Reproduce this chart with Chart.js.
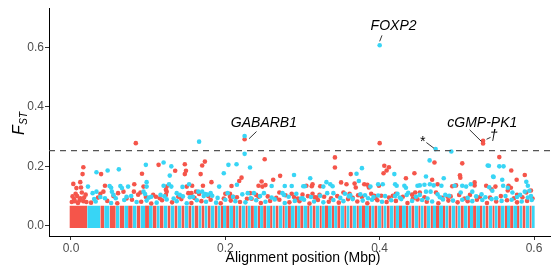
<!DOCTYPE html>
<html lang="en">
<head>
  <meta charset="UTF-8" />
  <title>Fst along alignment</title>
  <style>
    html, body { margin: 0; padding: 0; background: #fff; }
    #wrap { width: 551px; height: 267px; }
  </style>
  <script src="https://cdn.jsdelivr.net/npm/chart.js"></script>
</head>
<body>
  <div id="wrap"><canvas id="fstChart" width="551" height="267"></canvas></div>

  <script>
    // tick labels
    const xTicks = [0, 0.2, 0.4, 0.6];
    const yTicks = [0, 0.2, 0.4, 0.6];

    // significance threshold (dashed line)
    const threshold = 0.2525;

    // dense band of low-Fst SNPs: alternating red / cyan blocks (Mbp edges)
    const stripeEdges = [-0.002, 0.021, 0.038, 0.043, 0.050, 0.058, 0.063, 0.069, 0.074, 0.080,
      0.085, 0.090, 0.096, 0.101, 0.106, 0.111, 0.115, 0.120, 0.125, 0.129, 0.134, 0.138, 0.143,
      0.147, 0.152, 0.156, 0.160, 0.165, 0.169, 0.173, 0.177, 0.181, 0.186, 0.190, 0.194, 0.197,
      0.201, 0.205, 0.210, 0.213, 0.217, 0.221, 0.226, 0.229, 0.233, 0.237, 0.242, 0.245, 0.249,
      0.253, 0.258, 0.261, 0.265, 0.269, 0.274, 0.277, 0.281, 0.285, 0.290, 0.293, 0.297, 0.301,
      0.306, 0.309, 0.313, 0.317, 0.322, 0.325, 0.329, 0.333, 0.338, 0.341, 0.345, 0.349, 0.354,
      0.357, 0.361, 0.365, 0.370, 0.373, 0.377, 0.381, 0.386, 0.389, 0.393, 0.397, 0.402, 0.405,
      0.409, 0.413, 0.418, 0.421, 0.425, 0.429, 0.434, 0.437, 0.441, 0.445, 0.450, 0.453, 0.457,
      0.461, 0.466, 0.469, 0.473, 0.477, 0.482, 0.485, 0.489, 0.493, 0.498, 0.501, 0.505, 0.509,
      0.514, 0.517, 0.521, 0.525, 0.530, 0.533, 0.537, 0.541, 0.546, 0.549, 0.553, 0.557, 0.562,
      0.565, 0.569, 0.573, 0.578, 0.581, 0.585, 0.589, 0.594, 0.597, 0.601];
    const bandTop = 0.068;
    const bandBottom = -0.007;

    // scattered SNPs, red scaffolds
    const redX = [0.084, 0.225, 0.251, 0.400, 0.534, 0.534, 0.342, 0.342, 0.471, 0.507, 0.555,
      0.406, 0.412, 0.409, 0.405, 0.016, 0.015, 0.003, 0.012, 0.013, 0.007, 0.039, 0.044, 0.068,
      0.042, 0.038, 0.061, 0.092, 0.1135, 0.135, 0.1475, 0.149, 0.1475, 0.082, 0.094, 0.124,
      0.123, 0.157, 0.150, 0.0815, 0.087, 0.090, 0.1065, 0.110, 0.124, 0.123, 0.152, 0.156,
      0.162, 0.166, 0.1735, 0.170, 0.168, 0.221, 0.218, 0.208, 0.171, 0.182, 0.247, 0.243, 0.248,
      0.252, 0.200, 0.206, 0.206, 0.210, 0.232, 0.240, 0.243, 0.271, 0.262, 0.313, 0.312, 0.305,
      0.323, 0.300, 0.307, 0.313, 0.318, 0.322, 0.328, 0.270, 0.286, 0.278, 0.3625, 0.434, 0.350,
      0.357, 0.3675, 0.369, 0.380, 0.384, 0.386, 0.399, 0.353, 0.361, 0.372, 0.389, 0.393, 0.402,
      0.417, 0.421, 0.445, 0.468, 0.5045, 0.475, 0.494, 0.499, 0.523, 0.523, 0.446, 0.442, 0.452,
      0.473, 0.488, 0.503, 0.517, 0.504, 0.5705, 0.588, 0.550, 0.5775, 0.567, 0.570, 0.538, 0.545,
      0.566, 0.578, 0.590, 0.596, 0.001, 0.004, 0.008, 0.011, 0.014, 0.017, 0.019, 0.006, 0.002,
      0.012, 0.016, 0.020, 0.009, 0.005,
      0.026, 0.047, 0.060, 0.079, 0.091, 0.104, 0.118, 0.131, 0.143, 0.156, 0.169, 0.181, 0.194,
      0.207, 0.219, 0.234, 0.246, 0.258, 0.270, 0.283, 0.296, 0.309, 0.320, 0.334, 0.347, 0.359,
      0.371, 0.384, 0.397, 0.409, 0.421, 0.436, 0.449, 0.461, 0.476, 0.489, 0.501, 0.514, 0.526,
      0.539, 0.551, 0.565, 0.578, 0.591,
      0.035, 0.055, 0.072, 0.097, 0.115, 0.139, 0.160, 0.178, 0.198, 0.215, 0.228, 0.255, 0.266,
      0.289, 0.294, 0.316, 0.337, 0.345, 0.365, 0.377, 0.395, 0.412, 0.430, 0.443, 0.458, 0.481,
      0.492, 0.510, 0.530, 0.543, 0.557, 0.574, 0.585, 0.598];
    const redY = [0.278, 0.291, 0.224, 0.278, 0.286, 0.277, 0.230, 0.196, 0.213, 0.210, 0.231,
      0.202, 0.197, 0.186, 0.177, 0.197, 0.174, 0.141, 0.147, 0.129, 0.127, 0.174, 0.135, 0.115,
      0.115, 0.108, 0.110, 0.175, 0.205, 0.185, 0.207, 0.185, 0.174, 0.140, 0.132, 0.132,
      0.121, 0.135, 0.132, 0.115, 0.105, 0.112, 0.104, 0.098, 0.115, 0.104, 0.110, 0.110,
      0.115, 0.107, 0.216, 0.203, 0.174, 0.162, 0.151, 0.134, 0.135, 0.147, 0.149, 0.135, 0.132,
      0.137, 0.108, 0.108, 0.098, 0.098, 0.110, 0.104, 0.098, 0.168, 0.155, 0.140, 0.133, 0.135,
      0.133, 0.105, 0.100, 0.108, 0.095, 0.104, 0.098, 0.112, 0.108, 0.103, 0.174, 0.160, 0.146,
      0.140, 0.142, 0.129, 0.140, 0.138, 0.129, 0.135, 0.112, 0.108, 0.103, 0.108, 0.101, 0.101,
      0.101, 0.108, 0.177, 0.155, 0.162, 0.140, 0.133, 0.136, 0.136, 0.146, 0.112, 0.105, 0.112,
      0.112, 0.098, 0.104, 0.104, 0.170, 0.186, 0.171, 0.132, 0.155, 0.135, 0.128, 0.135, 0.123,
      0.119, 0.104, 0.112, 0.119, 0.080, 0.090, 0.100, 0.085, 0.112, 0.095, 0.105, 0.108, 0.099,
      0.093, 0.083, 0.080, 0.077, 0.083,
      0.078, 0.084, 0.076, 0.088, 0.081, 0.075, 0.086, 0.079, 0.090, 0.077, 0.083, 0.088, 0.076,
      0.085, 0.080, 0.091, 0.077, 0.084, 0.088, 0.079, 0.083, 0.075, 0.087, 0.081, 0.078, 0.090,
      0.082, 0.076, 0.086, 0.080, 0.084, 0.077, 0.089, 0.081, 0.076, 0.085, 0.079, 0.083, 0.088,
      0.077, 0.082, 0.086, 0.079, 0.084,
      0.095, 0.100, 0.092, 0.097, 0.093, 0.098, 0.094, 0.100, 0.092, 0.096, 0.091, 0.099, 0.094,
      0.097, 0.092, 0.096, 0.093, 0.100, 0.094, 0.097, 0.093, 0.095, 0.098, 0.092, 0.096, 0.094,
      0.099, 0.092, 0.097, 0.095, 0.100, 0.093, 0.096, 0.092];

    // scattered SNPs, cyan scaffolds
    const cyanX = [0.166, 0.225, 0.225, 0.232, 0.400, 0.4725, 0.4928, 0.4647, 0.540, 0.5415,
      0.555, 0.5605, 0.5476, 0.5588, 0.033, 0.0475, 0.062, 0.022, 0.050, 0.052, 0.064, 0.066,
      0.074, 0.072, 0.028, 0.033, 0.053, 0.055, 0.030, 0.044, 0.097, 0.120, 0.130, 0.128, 0.098,
      0.098, 0.120, 0.127, 0.130, 0.1445, 0.153, 0.165, 0.094, 0.096, 0.104, 0.116, 0.137, 0.141,
      0.145, 0.158, 0.204, 0.2145, 0.198, 0.215, 0.192, 0.170, 0.174, 0.177, 0.172, 0.181, 0.203,
      0.222, 0.229, 0.237, 0.250, 0.289, 0.310, 0.260, 0.277, 0.286, 0.301, 0.303, 0.327, 0.331,
      0.336, 0.339, 0.274, 0.276, 0.292, 0.300, 0.332, 0.340, 0.377, 0.370, 0.419, 0.373, 0.388,
      0.398, 0.404, 0.420, 0.422, 0.432, 0.434, 0.355, 0.362, 0.375, 0.381, 0.398, 0.420, 0.423,
      0.435, 0.437, 0.460, 0.483, 0.449, 0.452, 0.458, 0.465, 0.470, 0.480, 0.497, 0.507, 0.512,
      0.518, 0.460, 0.466, 0.452, 0.475, 0.485, 0.505, 0.520, 0.547, 0.542, 0.560, 0.566, 0.590,
      0.592, 0.588, 0.594, 0.546, 0.532, 0.572, 0.582, 0.596,
      0.032, 0.052, 0.069, 0.085, 0.098, 0.111, 0.124, 0.137, 0.150, 0.163, 0.175, 0.188, 0.200,
      0.213, 0.226, 0.240, 0.252, 0.264, 0.277, 0.290, 0.302, 0.315, 0.327, 0.340, 0.353, 0.365,
      0.378, 0.390, 0.403, 0.415, 0.428, 0.442, 0.455, 0.468, 0.482, 0.495, 0.507, 0.520, 0.533,
      0.545, 0.558, 0.571, 0.584, 0.597,
      0.038, 0.058, 0.078, 0.101, 0.121, 0.133, 0.154, 0.183, 0.190, 0.210, 0.233, 0.245, 0.260,
      0.282, 0.298, 0.311, 0.323, 0.349, 0.360, 0.385, 0.392, 0.407, 0.426, 0.447, 0.462, 0.478,
      0.490, 0.514, 0.525, 0.537, 0.551, 0.563, 0.578, 0.592];
    const cyanY = [0.283, 0.302, 0.242, 0.196, 0.607, 0.258, 0.250, 0.220, 0.203, 0.202,
      0.200, 0.200, 0.164, 0.155, 0.180, 0.186, 0.190, 0.132, 0.134, 0.128, 0.134, 0.127,
      0.132, 0.098, 0.110, 0.115, 0.115, 0.104, 0.090, 0.093, 0.205, 0.213, 0.200, 0.169, 0.147,
      0.132, 0.135, 0.140, 0.132, 0.131, 0.140, 0.115, 0.115, 0.107, 0.098, 0.104, 0.110, 0.104,
      0.099, 0.098, 0.205, 0.207, 0.177, 0.138, 0.132, 0.115, 0.107, 0.105, 0.100, 0.110, 0.110,
      0.106, 0.110, 0.110, 0.110, 0.171, 0.160, 0.134, 0.134, 0.134, 0.133, 0.133, 0.132, 0.147,
      0.140, 0.133, 0.110, 0.104, 0.108, 0.093, 0.110, 0.110, 0.194, 0.175, 0.174, 0.151, 0.132,
      0.140, 0.140, 0.140, 0.135, 0.135, 0.128, 0.108, 0.103, 0.106, 0.103, 0.102, 0.100, 0.108,
      0.104, 0.111, 0.166, 0.160, 0.135, 0.136, 0.138, 0.140, 0.136, 0.135, 0.135, 0.135, 0.132,
      0.140, 0.115, 0.115, 0.104, 0.106, 0.104, 0.112, 0.115, 0.166, 0.130, 0.135, 0.128, 0.148,
      0.135, 0.115, 0.118, 0.118, 0.106, 0.112, 0.104, 0.100,
      0.082, 0.077, 0.087, 0.080, 0.085, 0.078, 0.089, 0.083, 0.076, 0.086, 0.081, 0.078, 0.088,
      0.083, 0.079, 0.086, 0.081, 0.089, 0.077, 0.084, 0.088, 0.082, 0.079, 0.087, 0.083, 0.090,
      0.085, 0.088, 0.081, 0.086, 0.090, 0.084, 0.087, 0.082, 0.089, 0.085, 0.088, 0.083, 0.087,
      0.090, 0.084, 0.088, 0.082, 0.087,
      0.097, 0.093, 0.100, 0.095, 0.099, 0.092, 0.096, 0.101, 0.094, 0.098, 0.093, 0.100, 0.095,
      0.098, 0.092, 0.097, 0.101, 0.094, 0.099, 0.093, 0.097, 0.100, 0.095, 0.098, 0.092, 0.096,
      0.101, 0.094, 0.099, 0.096, 0.093, 0.100, 0.097, 0.095];

    const RED = "#F5554A";
    const CYAN = "#38D5F5";

    // gene labels with leader lines (data units)
    const notes = [
      { text: "FOXP2",    tx: 0.418, ty: 0.672, x1: 0.403,  y1: 0.640, x2: 0.400,  y2: 0.620 },
      { text: "GABARB1",  tx: 0.250, ty: 0.346, x1: 0.2404, y1: 0.317, x2: 0.2308, y2: 0.293 },
      { text: "cGMP-PK1", tx: 0.533, ty: 0.346, x1: 0.5165, y1: 0.323, x2: 0.5317, y2: 0.284 },
      { text: "*",        tx: 0.455, ty: 0.283, x1: 0.4605, y1: 0.280, x2: 0.4703, y2: 0.261 },
      { text: "\u2020",   tx: 0.5476, ty: 0.300, x1: 0.5385, y1: 0.291, x2: 0.5437, y2: 0.2975 }
    ];

    const toPoints = (xs, ys) => xs.map((x, i) => ({ x: x, y: ys[i] }));

    const datasets = [
      { label: "red", data: toPoints(redX, redY), backgroundColor: RED, pointRadius: 2.3,
        pointBorderWidth: 0, showLine: false, order: 1 },
      { label: "cyan", data: toPoints(cyanX, cyanY), backgroundColor: CYAN, pointRadius: 2.3,
        pointBorderWidth: 0, showLine: false, order: 0 }
    ];

    // one filled block per stripe, colours alternate
    for (let i = 0; i < stripeEdges.length - 1; i++) {
      const col = i % 2 === 0 ? RED : CYAN;
      datasets.push({
        type: "line",
        data: [{ x: stripeEdges[i], y: bandTop }, { x: stripeEdges[i + 1], y: bandTop }],
        borderWidth: 0,
        borderColor: col,
        backgroundColor: col,
        pointRadius: 0,
        fill: { value: bandBottom },
        order: 5
      });
    }

    const FONT = "'Liberation Sans', Arial, sans-serif";

    const extras = {
      id: "extras",
      afterDatasetsDraw(chart) {
        const ctx = chart.ctx;
        const a = chart.chartArea;
        const xs = chart.scales.x, ys = chart.scales.y;

        // dashed threshold
        ctx.save();
        ctx.strokeStyle = "#555555";
        ctx.lineWidth = 1.3;
        ctx.setLineDash([6, 5]);
        const yt = ys.getPixelForValue(threshold);
        ctx.beginPath();
        ctx.moveTo(a.left, yt);
        ctx.lineTo(a.right, yt);
        ctx.stroke();
        ctx.restore();

        // labels
        ctx.save();
        ctx.fillStyle = "#000";
        ctx.strokeStyle = "#000";
        ctx.lineWidth = 0.8;
        ctx.font = "italic 14px " + FONT;
        ctx.textAlign = "center";
        ctx.textBaseline = "middle";
        notes.forEach(n => {
          ctx.fillText(n.text, xs.getPixelForValue(n.tx), ys.getPixelForValue(n.ty));
          ctx.beginPath();
          ctx.moveTo(xs.getPixelForValue(n.x1), ys.getPixelForValue(n.y1));
          ctx.lineTo(xs.getPixelForValue(n.x2), ys.getPixelForValue(n.y2));
          ctx.stroke();
        });
        ctx.restore();

        // axis titles
        ctx.save();
        ctx.fillStyle = "#000";
        ctx.font = "14px " + FONT;
        ctx.textAlign = "center";
        ctx.textBaseline = "middle";
        ctx.fillText("Alignment position (Mbp)", 303, 258);
        ctx.translate(24, 135);
        ctx.rotate(-Math.PI / 2);
        ctx.textAlign = "left";
        ctx.textBaseline = "alphabetic";
        ctx.font = "italic 16px " + FONT;
        ctx.fillText("F", 0, 0);
        const fw = ctx.measureText("F").width;
        ctx.font = "italic 10px " + FONT;
        ctx.fillText("ST", fw + 0.5, 3);
        ctx.restore();
      }
    };

    new Chart(document.getElementById("fstChart"), {
      type: "scatter",
      data: { datasets: datasets },
      options: {
        responsive: false,
        animation: false,
        layout: { autoPadding: false, padding: { top: 8, right: 0, left: 0, bottom: 0 } },
        plugins: { legend: { display: false }, tooltip: { enabled: false } },
        scales: {
          x: {
            type: "linear",
            min: -0.0285,
            max: 0.622,
            afterFit: s => { s.height = 31; s.paddingLeft = 0; s.paddingRight = 0; },
            afterBuildTicks: s => { s.ticks = xTicks.map(v => ({ value: v })); },
            grid: { display: true, drawOnChartArea: false, drawTicks: true, tickLength: 4, color: "#333333" },
            border: { display: true, color: "#000", width: 1 },
            ticks: {
              padding: 1,
              color: "#4D4D4D",
              font: { family: FONT, size: 12 },
              callback: v => v.toFixed(1)
            }
          },
          y: {
            type: "linear",
            min: -0.034,
            max: 0.732,
            afterFit: s => { s.width = 49; s.paddingTop = 0; s.paddingBottom = 0; },
            afterBuildTicks: s => { s.ticks = yTicks.map(v => ({ value: v })); },
            grid: { display: true, drawOnChartArea: false, drawTicks: true, tickLength: 4, color: "#333333" },
            border: { display: true, color: "#000", width: 1 },
            ticks: {
              padding: 1,
              color: "#4D4D4D",
              font: { family: FONT, size: 12 },
              callback: v => v.toFixed(1)
            }
          }
        }
      },
      plugins: [extras]
    });
  </script>
</body>
</html>
